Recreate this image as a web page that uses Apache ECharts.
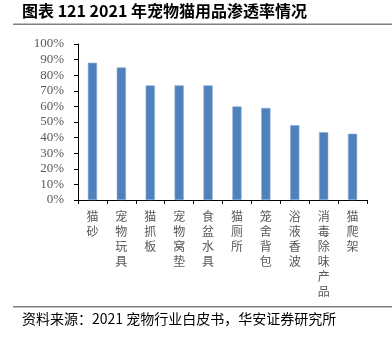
<!DOCTYPE html>
<html><head><meta charset="utf-8">
<script src="https://cdn.jsdelivr.net/npm/echarts@6/dist/echarts.min.js"></script>
<style>html,body{margin:0;padding:0;background:#fff}#c{width:392px;height:344px}</style>
</head><body><div id="c"></div>
<script>
const titleText = '图表 121 2021 年宠物猫用品渗透率情况';
const sourceText = '资料来源：2021 宠物行业白皮书，华安证券研究所';
const categories = ['猫砂','宠物玩具','猫抓板','宠物窝垫','食盆水具','猫厕所','笼舍背包','浴液香波','消毒除味产品','猫爬架'];
const values = [88, 85, 73.5, 73.5, 73.5, 60, 59, 48, 43.5, 42.5];
const yTicks = [0,10,20,30,40,50,60,70,80,90,100];

const chart = echarts.init(document.getElementById('c'), null, {renderer:'canvas'});
chart.setOption({
  animation:false,
  backgroundColor:'#fff',
  grid:{left:78, right:25, top:44, bottom:144, containLabel:false},
  xAxis:{
    type:'category', data:categories,
    axisLine:{lineStyle:{color:'#000', width:1}},
    axisTick:{show:true, alignWithLabel:false, length:4, lineStyle:{color:'#000'}},
    axisLabel:{
      interval:0, margin:9, color:'#595959',
      fontFamily:'Noto Sans CJK SC', fontSize:12, lineHeight:15,
      verticalAlign:'top',
      formatter:v=>v.split('').join('\n')
    }
  },
  yAxis:{
    type:'value', min:yTicks[0], max:yTicks[yTicks.length-1], interval:10,
    axisLine:{show:true, lineStyle:{color:'#000', width:1}},
    axisTick:{show:true, inside:false, length:4, lineStyle:{color:'#000'}},
    splitLine:{show:false},
    axisLabel:{color:'#595959', fontFamily:'Liberation Serif', fontSize:13, margin:14, formatter:v=>v+'%'}
  },
  series:[{
    type:'bar', data:values, barWidth:'32%',
    itemStyle:{color:'#4F81BD', borderColor:'#8fb0d8', borderWidth:0.6}
  }],
  graphic:[
    {type:'text', left:22, top:3, style:{text:titleText, fill:'#000', font:'bold 16px "Noto Sans CJK SC", sans-serif'}},
    {type:'rect', shape:{x:13, y:23.5, width:379, height:1.6}, style:{fill:'#7f7f7f'}},
    {type:'rect', shape:{x:13, y:306, width:379, height:1.4}, style:{fill:'#7f7f7f'}},
    {type:'text', left:22, top:312, style:{text:sourceText, fill:'#000', font:'14px "Noto Sans CJK SC", sans-serif'}}
  ]
});
</script></body></html>
